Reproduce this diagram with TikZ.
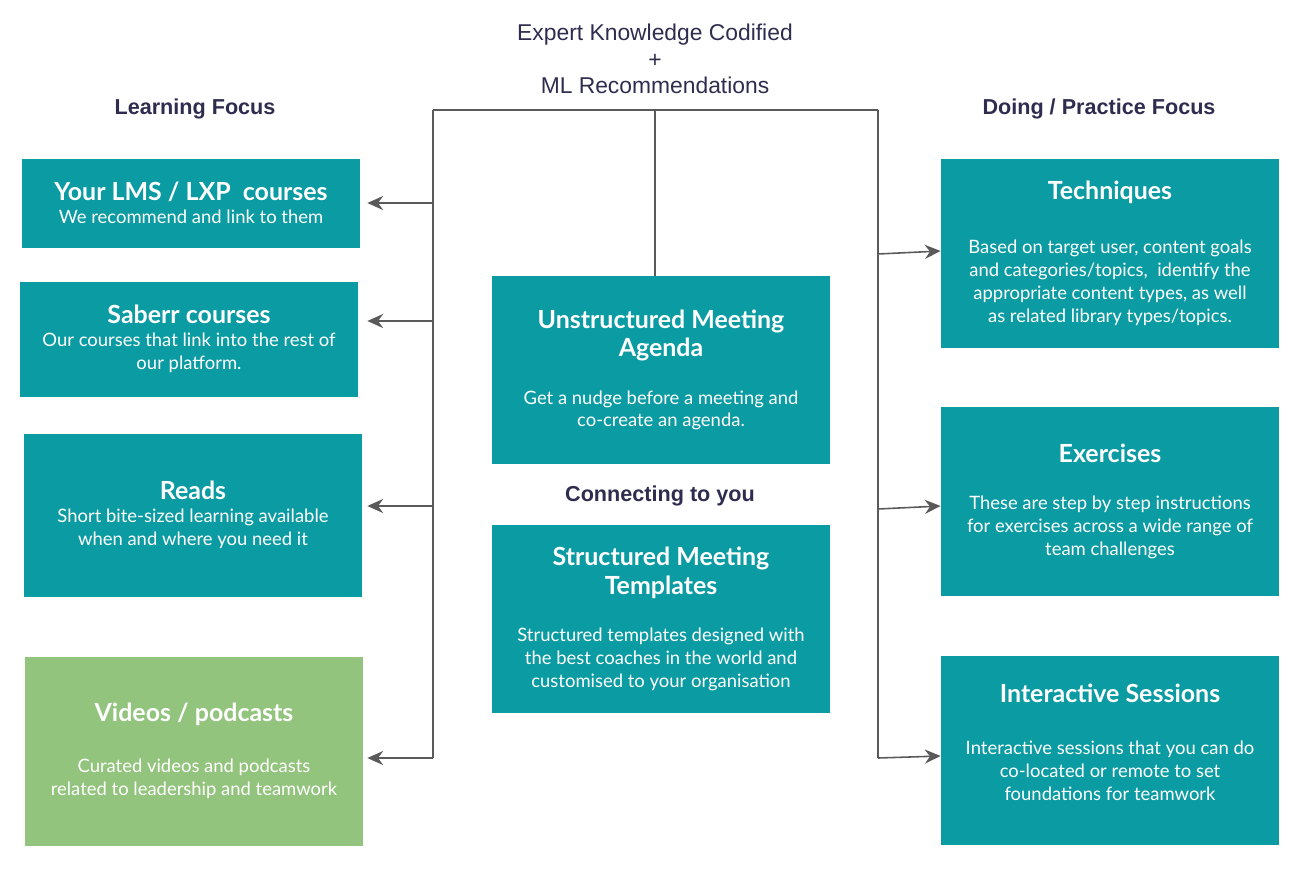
\documentclass[tikz,border=0pt]{standalone}
\usepackage{fontspec}
\setmainfont{Lato}
\newfontfamily\arialfont{Liberation Sans}
\usetikzlibrary{arrows.meta}
\usetikzlibrary{positioning}
\definecolor{teal}{HTML}{0B9BA3}
\definecolor{leaf}{HTML}{93C47D}
\definecolor{navy}{HTML}{2E2D4F}
\definecolor{wire}{HTML}{5A5A5A}
\newcommand{\ttl}[1]{{\fontsize{14.2}{16.5}\selectfont\bfseries #1}}
\tikzset{
  card/.style={draw=none, fill=teal, text=white, align=center, inner sep=0pt,
    minimum width=338*0.02cm, font=\fontsize{10.5}{13}\selectfont},
  head/.style={text=navy, font=\arialfont\bfseries\fontsize{12.3}{14}\selectfont},
  link/.style={draw=wire, line width=0.9pt},
  push/.style={link, -{Stealth[length=9pt,width=8pt]}}
}
\begin{document}
\begin{tikzpicture}[x=0.02cm, y=-0.02cm]
    \useasboundingbox (0,0) rectangle (1308,876);
    % top
    \node[text=navy, align=center, font=\arialfont\fontsize{13}{15}\selectfont] (expert) at (655,59)
      {Expert Knowledge Codified\\+\\ML Recommendations};
    \node[head] (learn) at (195,109) {Learning Focus};
    \node[head] (doing) at (1099,109) {Doing / Practice Focus};
    % left column
    \node[card, minimum height=89*0.02cm] (lms) at (191,203) {\ttl{Your LMS / LXP\ \ courses}\\We recommend and link to them};
    \node[card, minimum height=115*0.02cm] (saberr) at (189,339) {\ttl{Saberr courses}\\Our courses that link into the rest of\\our platform.};
    \node[card, minimum height=163*0.02cm] (reads) at (193,515) {\ttl{Reads}\\Short bite-sized learning available\\when and where you need it};
    \node[card, fill=leaf, minimum height=189*0.02cm] (videos) at (194,751) {\ttl{Videos / podcasts}\\[16pt]Curated videos and podcasts\\related to leadership and teamwork};
    % centre
    \node[card, minimum height=188*0.02cm] (agenda) at (661,370) {\ttl{Unstructured Meeting}\\[2pt]\ttl{Agenda}\\[14pt]Get a nudge before a meeting and\\co-create an agenda.};
    \node[head] (connect) at (660,496) {Connecting to you};
    \node[card, minimum height=188*0.02cm] (templates) at (661,619) {\ttl{Structured Meeting}\\[2pt]\ttl{Templates}\\[14pt]Structured templates designed with\\the best coaches in the world and\\customised to your organisation};
    % right column
    \node[card, minimum height=189*0.02cm] (tech) at (1110,253) {\ttl{Techniques}\\[18pt]Based on target user, content goals\\and categories/topics,\ \ identify the\\appropriate content types, as well\\as related library types/topics.};
    \node[card, minimum height=189*0.02cm] (exer) at (1110,501) {\ttl{Exercises}\\[14pt]These are step by step instructions\\for exercises across a wide range of\\team challenges};
    \node[card, minimum height=189*0.02cm] (inter) at (1110,750) {\ttl{Interactive Sessions}\\[17pt]Interactive sessions that you can do\\co-located or remote to set\\foundations for teamwork\\[-4pt]\mbox{}};
    % wiring
    \coordinate (tl) at (433,110);
    \coordinate (tm) at (655,110);
    \coordinate (tr) at (878,110);
    \coordinate (bl) at (433,758);
    \coordinate (br) at (878,758);
    \coordinate (l1) at (433,203);
    \coordinate (l2) at (433,321);
    \coordinate (l3) at (433,506);
    \coordinate (r1) at (878,254);
    \coordinate (r2) at (878,509);
    \draw[link] (tl) -- (tr);
    \draw[link] (tm) -- (tm |- agenda.north);
    \draw[link] (tl) -- (bl);
    \draw[link] (tr) -- (br);
    \draw[push] (l1) -- ([xshift=7*0.02cm]lms.east |- l1);
    \draw[push] (l2) -- ([xshift=9*0.02cm]saberr.east |- l2);
    \draw[push] (l3) -- ([xshift=5*0.02cm]reads.east |- l3);
    \draw[push] (bl) -- ([xshift=4*0.02cm]videos.east |- bl);
    \draw[push] (r1) -- ([yshift=3*0.02cm]tech.west |- r1);
    \draw[push] (r2) -- ([yshift=3*0.02cm]exer.west |- r2);
    \draw[push] (br) -- ([yshift=2*0.02cm]inter.west |- br);
\end{tikzpicture}
\end{document}
